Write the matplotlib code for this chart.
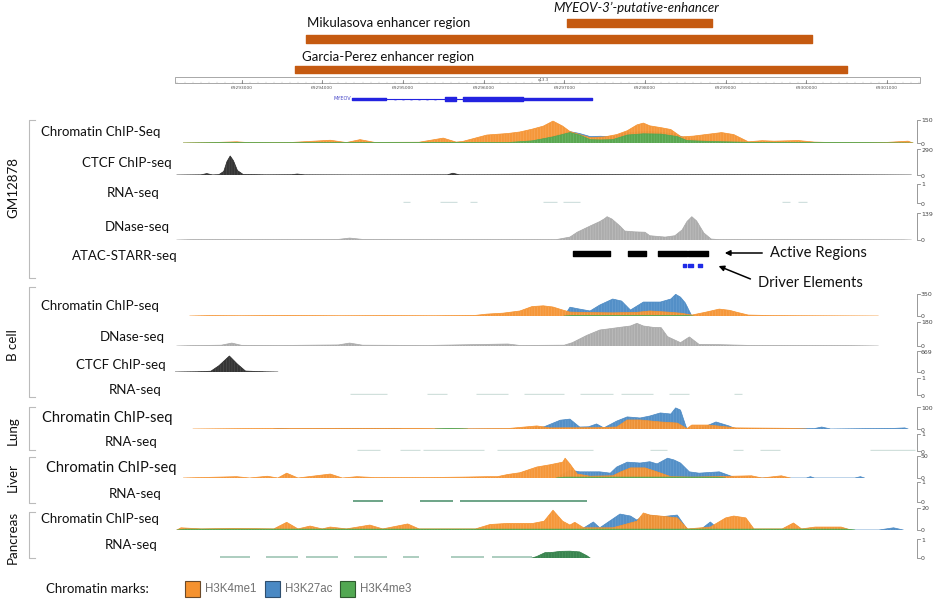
import numpy as np
import matplotlib.pyplot as plt
from matplotlib.patches import Rectangle

plt.rcParams['font.family'] = ['Lato', 'DejaVu Sans']
plt.rcParams['hatch.linewidth'] = 0.4

# ---------------- data ----------------
# positions are kb after chr11:69,290,000 ; values in track units

# top annotations (start kb, end kb)
myeov_enh = (7.03, 8.83)
mikulasova = (3.80, 10.07)
garcia_perez = (3.66, 10.50)

ruler_kb = [3, 4, 5, 6, 7, 8, 9, 10, 11]
ruler_labels = ['69293000', '69294000', '69295000', '69296000', '69297000',
                '69298000', '69299000', '69300000', '69301000']

gene_line = (4.37, 7.34)
gene_utr = [(4.37, 4.79), (6.49, 7.34)]
gene_cds = [(5.52, 5.66), (5.74, 6.49)]

# GM12878
gm_chip_k27ac = [(6.30, 0), (6.60, 8), (7.07, 74), (7.19, 62), (7.32, 42), (7.45, 44), (7.60, 40),
                 (7.75, 64), (7.90, 72), (8.06, 74), (8.20, 70), (8.35, 60), (8.47, 38), (8.60, 22),
                 (8.90, 10), (9.30, 2), (9.60, 0)]
gm_chip_k4me1 = [(2.28, 0), (2.60, 2), (2.94, 8), (3.10, 2), (3.60, 3), (4.10, 18), (4.30, 3), (4.47, 22),
                 (4.65, 4), (5.20, 5), (5.50, 32), (5.66, 6), (5.74, 10), (6.04, 52), (6.30, 62), (6.45, 72),
                 (6.60, 90), (6.74, 110), (6.86, 143), (6.98, 110), (7.07, 75), (7.19, 55), (7.32, 35),
                 (7.50, 40), (7.65, 55), (7.78, 80), (7.90, 118), (7.98, 130), (8.06, 112), (8.20, 100),
                 (8.32, 88), (8.45, 40), (8.60, 45), (8.75, 55), (8.95, 68), (9.10, 55), (9.28, 8),
                 (9.45, 15), (9.60, 12), (9.90, 16), (10.10, 6), (10.24, 4), (10.60, 2), (11.00, 4),
                 (11.26, 12), (11.32, 0)]
gm_chip_k4me3 = [(2.28, 0), (2.80, 3), (3.40, 2), (5.50, 4), (6.30, 3), (6.60, 14), (6.86, 40), (7.07, 68),
                 (7.19, 52), (7.32, 22), (7.45, 20), (7.60, 22), (7.78, 52), (7.98, 60), (8.20, 58),
                 (8.40, 42), (8.52, 16), (8.80, 10), (9.30, 4), (10.60, 3), (11.32, 0)]
gm_ctcf = [(2.20, 0), (2.50, 2), (2.57, 16), (2.64, 1), (2.72, 4), (2.78, 40), (2.82, 150), (2.86, 212),
           (2.90, 160), (2.95, 50), (3.02, 6), (3.30, 2), (3.62, 3), (3.69, 11), (3.78, 2), (4.40, 1),
           (5.55, 2), (5.62, 20), (5.70, 2), (6.50, 3), (7.20, 4), (8.00, 3), (9.00, 3), (10.40, 2), (11.30, 0)]
gm_rna = [(5.00, 5.09), (5.46, 5.67), (5.83, 5.92), (6.74, 6.91), (6.98, 7.19), (9.70, 9.80), (9.90, 10.01)]
gm_dnase = [(2.20, 0), (2.40, 2), (3.40, 2), (4.20, 3), (4.34, 10), (4.50, 3), (5.50, 2), (6.90, 2),
            (7.07, 15), (7.16, 40), (7.32, 72), (7.44, 95), (7.50, 110), (7.53, 120), (7.59, 108),
            (7.69, 72), (7.75, 46), (7.87, 42), (8.00, 40), (8.06, 22), (8.25, 15), (8.37, 22), (8.46, 52),
            (8.52, 95), (8.58, 120), (8.64, 98), (8.73, 36), (8.82, 5), (8.92, 2), (10.00, 2), (11.20, 1),
            (11.30, 0)]
atac_active = [(7.11, 7.57), (7.79, 8.01), (8.16, 8.52), (8.53, 8.78)]
atac_driver = [(8.47, 8.51), (8.53, 8.60), (8.66, 8.71)]

# B cell
b_chip_k27ac = [(7.00, 0), (7.07, 140), (7.19, 110), (7.32, 80), (7.44, 175), (7.60, 270), (7.71, 238),
                (7.82, 95), (7.98, 222), (8.19, 222), (8.32, 270), (8.38, 345), (8.44, 300), (8.50, 207),
                (8.58, 0)]
b_chip_k4me1 = [(2.36, 0), (2.60, 6), (3.00, 4), (3.60, 8), (4.20, 4), (4.80, 6), (5.40, 4), (5.90, 10),
                (6.04, 30), (6.24, 45), (6.45, 80), (6.60, 150), (6.74, 162), (6.86, 143), (6.98, 95),
                (7.07, 62), (7.30, 55), (7.60, 50), (7.90, 58), (8.06, 80), (8.30, 60), (8.44, 45),
                (8.58, 15), (8.75, 60), (8.92, 110), (9.05, 90), (9.13, 62), (9.28, 15), (9.60, 6),
                (9.94, 4), (10.89, 0)]
b_chip_k4me3 = [(7.00, 0), (7.10, 8), (8.50, 8), (8.60, 0)]
b_dnase = [(2.20, 0), (2.40, 3), (2.75, 6), (2.88, 22), (3.00, 5), (3.50, 4), (4.20, 8), (4.34, 22),
           (4.50, 6), (5.30, 4), (6.30, 15), (6.45, 4), (7.00, 6), (7.10, 25), (7.28, 80), (7.44, 120),
           (7.57, 130), (7.69, 140), (7.82, 150), (7.90, 170), (7.98, 150), (8.10, 140), (8.20, 138),
           (8.28, 70), (8.44, 25), (8.55, 68), (8.67, 12), (8.92, 10), (9.32, 4), (10.50, 3), (10.89, 0)]
b_ctcf = [(2.18, 0), (2.45, 8), (2.62, 25), (2.72, 200), (2.85, 510), (2.95, 250), (3.05, 30),
          (3.30, 6), (3.45, 0)]
b_rna = [(4.35, 4.80), (5.30, 5.55), (5.90, 6.30), (6.50, 7.00), (7.20, 7.60), (7.70, 8.10), (8.30, 8.55),
         (9.10, 9.20)]

# Lung
lung_chip_k27ac = [(3.40, 0), (3.50, 3), (3.60, 0), (4.90, 3), (5.00, 0), (6.55, 0), (6.75, 10), (6.95, 40),
                   (7.07, 45), (7.19, 9), (7.30, 10), (7.40, 23), (7.49, 5), (7.65, 36), (7.78, 55),
                   (7.94, 50), (8.06, 59), (8.19, 73), (8.32, 68), (8.38, 96), (8.44, 86), (8.50, 20),
                   (8.52, 0), (8.70, 4), (8.88, 32), (9.04, 14), (9.13, 0), (10.10, 2), (10.19, 9),
                   (10.30, 0), (11.10, 3), (11.22, 5), (11.26, 0)]
lung_chip_k4me1 = [(2.40, 0), (3.20, 2), (4.20, 3), (5.20, 3), (5.50, 0), (6.30, 2), (6.66, 14), (6.82, 5),
                   (7.40, 6), (7.65, 9), (7.78, 41), (7.94, 41), (8.19, 32), (8.40, 27), (8.52, 2),
                   (8.58, 18), (8.79, 18), (9.13, 5), (9.80, 3), (10.00, 0)]
lung_chip_k4me3 = [(5.40, 0), (5.60, 3), (5.80, 0)]
lung_rna = [(4.43, 4.72), (4.96, 5.21), (5.25, 6.00), (6.17, 7.36), (8.06, 8.27), (9.09, 9.21),
            (9.42, 9.67), (10.79, 11.35)]

# Liver
liver_chip_k27ac = [(6.90, 0), (7.07, 18), (7.19, 14), (7.44, 14), (7.57, 11), (7.65, 25), (7.78, 36),
                    (7.94, 34), (8.06, 37), (8.15, 32), (8.28, 45), (8.36, 41), (8.44, 34), (8.55, 14),
                    (8.67, 11), (8.92, 14), (9.13, 0), (10.00, 0), (10.05, 3), (10.10, 0), (10.60, 0),
                    (10.67, 3), (10.72, 0)]
liver_chip_k4me1 = [(2.28, 0), (2.94, 3), (3.10, 0), (3.32, 4), (3.45, 0), (3.56, 11), (3.70, 0), (4.10, 9),
                    (4.25, 0), (4.43, 3), (4.65, 1), (5.30, 1), (5.74, 2), (6.04, 3), (6.17, 3), (6.30, 8),
                    (6.45, 12), (6.66, 25), (6.82, 30), (6.98, 36), (7.01, 45), (7.07, 32), (7.16, 9),
                    (7.32, 4), (7.60, 5), (7.70, 14), (7.82, 23), (8.00, 23), (8.15, 14), (8.32, 3),
                    (8.60, 2), (9.32, 5), (9.45, 0), (9.69, 5), (9.80, 0)]
liver_chip_k4me3 = [(6.90, 0), (7.00, 2), (8.90, 2), (9.00, 0)]
liver_rna = [(4.38, 4.75), (5.21, 5.62), (5.71, 7.28)]

# Pancreas
panc_chip_k27ac = [(7.20, 0), (7.36, 7.3), (7.44, 2), (7.60, 10), (7.69, 14.5), (7.82, 12.7), (7.90, 9),
                   (8.00, 14), (8.20, 12), (8.40, 13.6), (8.53, 0), (8.70, 1), (8.81, 7.3), (8.92, 0),
                   (10.90, 0), (11.08, 2), (11.20, 0)]
panc_chip_k4me1 = [(2.20, 0), (2.25, 2), (2.50, 1), (2.90, 1.5), (3.40, 1), (3.56, 7), (3.70, 1),
                   (3.85, 3.6), (4.00, 1), (4.10, 2.7), (4.30, 1), (4.59, 4.5), (4.75, 1), (5.06, 5.5),
                   (5.20, 1), (5.90, 1), (6.08, 5), (6.30, 6), (6.61, 6), (6.75, 8), (6.86, 18), (6.98, 8),
                   (7.07, 4.5), (7.13, 7), (7.24, 2), (7.60, 2), (7.90, 8), (7.98, 15.5), (8.06, 13.6),
                   (8.15, 13), (8.28, 12), (8.40, 11), (8.53, 1), (8.81, 2.7), (9.00, 11), (9.10, 12.7),
                   (9.25, 11), (9.35, 1), (9.70, 1), (9.84, 6.4), (9.94, 1), (10.11, 2.7), (10.43, 2.7),
                   (10.55, 0)]
panc_chip_k4me3 = [(2.20, 0), (2.30, 0.8), (10.50, 0.8), (10.60, 0)]
panc_rna_faint = [(2.73, 3.10), (3.30, 3.70), (3.80, 4.20), (4.40, 4.80), (5.00, 5.20), (5.60, 6.00),
                  (6.10, 6.60)]
panc_rna = [(6.60, 0), (6.66, 0.08), (6.76, 0.28), (6.86, 0.30), (6.95, 0.35), (7.07, 0.36), (7.19, 0.32),
            (7.28, 0.12), (7.32, 0)]

legend_marks = ['H3K4me1', 'H3K27ac', 'H3K4me3']

# ---------------- styles / layout ----------------
ORANGE = '#F5922F'
BLUE = '#4A89C4'
GREEN = '#52A852'
BAR = '#C55A11'
GENE = '#2323E0'
TXT = '#111111'
FS = 9.5
W, H = 934, 603
PX_PER_KB = 80.7
KB3_PX = 241.5


def px2kb(px):
    return 3.0 + (px - KB3_PX) / PX_PER_KB


fig = plt.figure(figsize=(W / 100, H / 100), dpi=100)
ov = fig.add_axes([0, 0, 1, 1])
ov.set_xlim(0, W)
ov.set_ylim(H, 0)
ov.axis('off')

g = fig.add_axes([0, 0, 1, 1])
g.set_xlim(px2kb(0), px2kb(W))
g.set_ylim(H, 0)
g.axis('off')


def track(top, base, vmax):
    ax = fig.add_axes([175 / W, 1 - base / H, 745 / W, (base - top) / H])
    ax.set_xlim(px2kb(175), px2kb(920))
    ax.set_ylim(0, vmax)
    ax.axis('off')
    # scale bracket
    ov.plot([920, 917, 917, 920], [top, top, base, base], color='#888888', lw=0.6)
    ov.text(921, top + 1, str(vmax), fontsize=4.5, color='#444444', va='center', family='DejaVu Sans')
    ov.text(921, base + 1, '0', fontsize=4.5, color='#444444', va='center', family='DejaVu Sans')
    return ax


def signal(ax, pts, color, z=1, hatch_col=None):
    x, y = zip(*pts)
    ax.fill_between(x, y, facecolor=color, edgecolor=hatch_col or 'white', hatch='||||||',
                    lw=0, alpha=0.95, zorder=z)
    ax.plot(x, y, color=color, lw=0.5, zorder=z)


def chip(ax, k27, k4m1, k4m3):
    ax.axhline(0, color='#d8d8d8', lw=0.6, zorder=0)
    signal(ax, k27, BLUE, 1, '#6FA3D3')
    signal(ax, k4m1, ORANGE, 2, '#F8AD62')
    signal(ax, k4m3, GREEN, 3, '#73BC73')


def dashes(ax, segs, color, lw=1.0, alpha=0.6):
    for s, e in segs:
        ax.hlines(0.03 * ax.get_ylim()[1], s, e, color=color, lw=lw, alpha=alpha)


# ---------------- top annotation ----------------
g.broken_barh([(myeov_enh[0], myeov_enh[1] - myeov_enh[0])], (19, 8), color=BAR)
g.broken_barh([(mikulasova[0], mikulasova[1] - mikulasova[0])], (35, 7.5), color=BAR)
g.broken_barh([(garcia_perez[0], garcia_perez[1] - garcia_perez[0])], (65.5, 7.5), color=BAR)
ov.text(636, 8, 'MYEOV-3\u2019-putative-enhancer', fontsize=FS, style='italic', color=TXT,
        ha='center', va='center')
ov.text(307, 23, 'Mikulasova enhancer region', fontsize=FS, color=TXT, va='center')
ov.text(302, 57, 'Garcia-Perez enhancer region', fontsize=FS, color=TXT, va='center')

# ruler
g.add_patch(Rectangle((px2kb(175), 77), px2kb(920) - px2kb(175), 6, facecolor='white',
                      edgecolor='#9a9a9a', lw=0.6))
for t in np.arange(2.2, 11.41, 0.1):
    g.plot([t, t], [81.5, 83], color='#b0b0b0', lw=0.3)
for t, lab in zip(ruler_kb, ruler_labels):
    g.plot([t, t], [80, 83], color='#666666', lw=0.5)
    g.text(t, 88, lab, fontsize=3.2, color='#555555', ha='center', va='center', family='DejaVu Sans')
g.text(px2kb(543), 79.5, 'q13.3', fontsize=2.8, color='#555555', ha='center', va='center',
       family='DejaVu Sans')

# gene
g.hlines(99, gene_line[0], gene_line[1], color=GENE, lw=0.8)
for s, e in gene_utr:
    g.broken_barh([(s, e - s)], (97.6, 2.8), color=GENE)
for s, e in gene_cds:
    g.broken_barh([(s, e - s)], (96.6, 4.8), color=GENE)
for t in np.arange(4.9, 5.5, 0.1):
    g.text(t, 99, '>', fontsize=3, color=GENE, ha='center', va='center', family='DejaVu Sans')
g.text(px2kb(351), 99, 'MYEOV', fontsize=3.6, color='#4848c8', ha='right', va='center',
       family='DejaVu Sans')

# ---------------- tracks ----------------
ax = track(120, 143, 150)
chip(ax, gm_chip_k27ac, gm_chip_k4me1, gm_chip_k4me3)
ax = track(149, 175, 290)
signal(ax, gm_ctcf, '#2a2a2a', 1, '#555555')
ax = track(184, 203, 1)
dashes(ax, gm_rna, '#8db3b0', alpha=0.4)
ax = track(213, 240, 139)
signal(ax, gm_dnase, '#a8a8a8', 1, '#c4c4c4')
for s, e in atac_active:
    g.broken_barh([(s, e - s)], (251, 5), color='black')
for s, e in atac_driver:
    g.broken_barh([(s, e - s)], (263.5, 3.5), color='#1f2be6')

ax = track(294, 316, 350)
chip(ax, b_chip_k27ac, b_chip_k4me1, b_chip_k4me3)
ax = track(322, 346, 180)
signal(ax, b_dnase, '#a8a8a8', 1, '#c4c4c4')
ax = track(351, 372, 669)
signal(ax, b_ctcf, '#2a2a2a', 1, '#555555')
ax = track(378, 395, 1)
dashes(ax, b_rna, '#8db3a8', alpha=0.4)

ax = track(407, 429, 100)
chip(ax, lung_chip_k27ac, lung_chip_k4me1, lung_chip_k4me3)
ax = track(434, 451, 1)
dashes(ax, lung_rna, '#8db3a8', alpha=0.4)

ax = track(456, 478, 50)
chip(ax, liver_chip_k27ac, liver_chip_k4me1, liver_chip_k4me3)
ax = track(482, 502, 1)
dashes(ax, liver_rna, '#2f7d55', lw=1.4, alpha=0.7)

ax = track(508, 530, 20)
chip(ax, panc_chip_k27ac, panc_chip_k4me1, panc_chip_k4me3)
ax = track(539, 558, 1)
dashes(ax, panc_rna_faint, '#4f9576', lw=1.2, alpha=0.55)
signal(ax, panc_rna, '#2f7d46', 1, '#4f9a62')

# ---------------- left labels ----------------
groups = [('GM12878', 120, 278, 188), ('B cell', 287, 397, 345), ('Lung', 407, 450, 431),
          ('Liver', 457, 503, 477), ('Pancreas', 512, 558, 537)]
for name, top, bot, yc in groups:
    ov.plot([35, 29, 29, 35], [top, top, bot, bot], color='#bbbbbb', lw=0.8)
    ov.text(13, yc, name, rotation=90, fontsize=9.6, color=TXT, ha='center', va='center')

labels = [('Chromatin ChIP-Seq', 101, 132, FS), ('CTCF ChIP-seq', 127, 163, FS),
          ('RNA-seq', 133, 193, FS), ('DNase-seq', 137, 227, FS), ('ATAC-STARR-seq', 125, 256, FS),
          ('Chromatin ChIP-seq', 100, 306, FS), ('DNase-seq', 132, 337, FS),
          ('CTCF ChIP-seq', 121, 365, FS), ('RNA-seq', 135, 390, FS),
          ('Chromatin ChIP-seq', 107, 418, 10.5), ('RNA-seq', 131, 442, FS),
          ('Chromatin ChIP-seq', 111, 468, 10.5), ('RNA-seq', 135, 494, FS),
          ('Chromatin ChIP-seq', 100, 519, FS), ('RNA-seq', 131, 545, FS)]
for txt, xc, yc, fs in labels:
    ov.text(xc, yc, txt, fontsize=fs, color=TXT, ha='center', va='center')

# arrows to ATAC features
ov.text(770, 253, 'Active Regions', fontsize=10.6, color=TXT, va='center')
ov.annotate('', xy=(722, 253), xytext=(765, 253),
            arrowprops=dict(arrowstyle='-|>', color='black', lw=1.1, mutation_scale=8))
ov.text(758, 283, 'Driver Elements', fontsize=10.6, color=TXT, va='center')
ov.annotate('', xy=(716, 265), xytext=(753, 280),
            arrowprops=dict(arrowstyle='-|>', color='black', lw=1.1, mutation_scale=8))

# ---------------- legend ----------------
ov.text(46, 589, 'Chromatin marks:', fontsize=FS, color=TXT, va='center')
for x0, col, edge, lab in zip([185, 265, 340], [ORANGE, BLUE, GREEN],
                              ['#6b4a2a', '#2f4f6f', '#2f5a2f'], legend_marks):
    ov.add_patch(Rectangle((x0, 581), 15, 16, facecolor=col, edgecolor=edge, lw=0.8))
    ov.text(x0 + 20, 589, lab, fontsize=8.3, color='#707070', va='center', family='Liberation Sans')

fig.savefig('out.png', dpi=100)
